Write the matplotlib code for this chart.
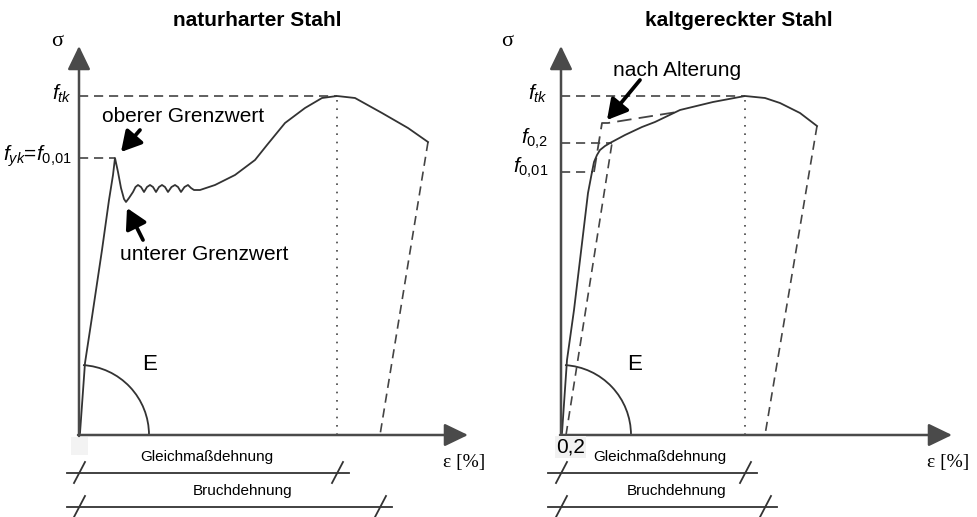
import numpy as np
import matplotlib.pyplot as plt
from matplotlib.patches import Arc, Rectangle

plt.rcParams['font.family'] = ['Liberation Sans', 'DejaVu Sans']
plt.rcParams['mathtext.fontset'] = 'custom'
plt.rcParams['mathtext.it'] = 'Liberation Sans:italic'
plt.rcParams['mathtext.rm'] = 'Liberation Sans'

# Schematic units (about one pixel each, measured from the origin of each diagram)

# naturharter Stahl
nat_eps = [0, 1, 6, 13, 23, 30, 34, 36, 39, 42, 45, 47, 50, 54, 56.5, 59, 62, 65, 68, 71, 74, 77, 80, 83,
           86, 89, 92.5, 96, 99, 102, 105.5, 109, 112, 115, 121, 136, 156, 176, 188, 206, 226, 243, 258,
           276, 303, 329, 349]
nat_sig = [0, 2, 72, 118, 185, 235, 260, 277, 263, 247, 236, 233, 237, 243, 248, 250, 248, 243, 248, 250,
           248, 243, 248, 250, 248, 243, 248, 250, 248, 243, 248, 250, 247, 245, 245, 250, 260, 275, 290,
           312, 327, 337, 339, 337, 322, 307, 293]
nat_ftk = 339
nat_fyk = 277
nat_eps_fyk = 36
nat_eps_ftk = 258
nat_eps_rest = 301

# kaltgereckter Stahl
kalt_eps = [0, 1, 6, 13, 19, 27, 31, 33, 36, 39, 44, 49, 64, 81, 94, 119, 152, 184, 204, 219, 239, 256]
kalt_sig = [0, 2, 75, 125, 175, 242, 263, 273, 280, 285, 289, 292, 300, 308, 313, 325, 333, 339, 337, 332, 322, 309]
kalt_ftk = 339
kalt_f02 = 292
kalt_f001 = 263
kalt_eps_f02 = 51
kalt_eps_f001 = 32
kalt_eps_ftk = 184
kalt_eps_rest = 204
offset_eps = [5, 51]
offset_sig = [0, 292]
aged_eps = [33, 41, 47, 116]
aged_sig = [263, 312, 312, 323]

LINE = '#333333'
AXIS = '#4a4a4a'
GUIDE = '#444444'

fig = plt.figure(figsize=(9.77, 5.17), dpi=100)
ax1 = fig.add_axes([0, 0, 488 / 977, 1])
ax2 = fig.add_axes([488 / 977, 0, 489 / 977, 1])
ax1.set_xlim(-79, 409)
ax1.set_ylim(-82, 435)
ax2.set_xlim(-73, 416)
ax2.set_ylim(-82, 435)


def hline(ax, y, x1):
    ax.plot([0, x1], [y, y], color=GUIDE, lw=1.2, dashes=(5.5, 3.5))


def dim_line(ax, y, x0, x1, ticks, label, xlab):
    ax.plot([x0, x1], [y, y], color=LINE, lw=1.3, clip_on=False)
    for t in ticks:
        ax.plot([t - 5, t + 6], [y - 10, y + 11], color=LINE, lw=1.3, clip_on=False)
    ax.text(xlab, y + 16, label, fontsize=11, ha='center', va='center')


def base(ax, title, x_end, sigma_x):
    ax.set_axis_off()
    arrow = dict(arrowstyle='-|>,head_length=1.45,head_width=0.7', mutation_scale=10,
                 lw=1.8, color=AXIS, shrinkA=0, shrinkB=0)
    ax.annotate('', xy=(0, 389), xytext=(0, -1), arrowprops=arrow)
    ax.annotate('', xy=(x_end, 0), xytext=(-1, 0), arrowprops=arrow)
    ax.text(178, 415, title, fontsize=15, fontweight='bold', ha='center', va='center')
    ax.text(x_end - 25, -28, 'ε [%]', family=['Liberation Serif', 'DejaVu Serif'],
            fontsize=14, ha='left', va='center')
    ax.text(sigma_x, 393, 'σ', family=['Liberation Serif', 'DejaVu Serif'],
            fontsize=16, ha='center', va='center')


pointer = dict(arrowstyle='-|>,head_length=0.75,head_width=0.42', mutation_scale=16,
               lw=2.7, color='black', shrinkA=0, shrinkB=0)

# --- naturharter Stahl ---
base(ax1, 'naturharter Stahl', 389, -22)
hline(ax1, nat_ftk, nat_eps_ftk)
hline(ax1, nat_fyk, nat_eps_fyk)
ax1.plot([nat_eps_ftk, nat_eps_ftk], [0, nat_ftk], color=GUIDE, lw=1.2, linestyle=(0, (1, 4)))
ax1.plot([nat_eps[-1], nat_eps_rest], [nat_sig[-1], 0], color=GUIDE, lw=1.2, dashes=(5.5, 3.5))
ax1.plot(nat_eps, nat_sig, color=LINE, lw=1.3, solid_joinstyle='round')
ax1.add_patch(Arc((0, 0), 140, 140, theta1=0, theta2=np.degrees(np.arctan2(70, 4)), color=LINE, lw=1.3))
ax1.add_patch(Rectangle((-8, -20), 17, 18, facecolor='#f3f3f3', edgecolor='none'))
ax1.text(71, 70, 'E', fontsize=16, ha='center', va='center')
ax1.text(-7, nat_ftk + 2, r'$f_{tk}$', fontsize=15, ha='right', va='center')
ax1.text(-7, nat_fyk + 2, r'$f_{yk}$=$f_{\mathit{0{,}01}}$', fontsize=15, ha='right', va='center')
ax1.text(104, 318, 'oberer Grenzwert', fontsize=15, ha='center', va='center')
ax1.annotate('', xy=(42, 283), xytext=(61, 305), arrowprops=pointer)
ax1.text(125, 181, 'unterer Grenzwert', fontsize=15, ha='center', va='center')
ax1.annotate('', xy=(48, 227), xytext=(64, 195), arrowprops=pointer)
dim_line(ax1, -38, -12, nat_eps_ftk + 12, [0, nat_eps_ftk], 'Gleichmaßdehnung', 128)
dim_line(ax1, -72, -12, nat_eps_rest + 12, [0, nat_eps_rest], 'Bruchdehnung', 164)

# --- kaltgereckter Stahl ---
base(ax2, 'kaltgereckter Stahl', 391, -54)
hline(ax2, kalt_ftk, kalt_eps_ftk)
hline(ax2, kalt_f02, kalt_eps_f02)
hline(ax2, kalt_f001, kalt_eps_f001)
ax2.plot([kalt_eps_ftk, kalt_eps_ftk], [0, kalt_ftk], color=GUIDE, lw=1.2, linestyle=(0, (1, 4)))
ax2.plot([kalt_eps[-1], kalt_eps_rest], [kalt_sig[-1], 0], color=GUIDE, lw=1.2, dashes=(5.5, 3.5))
ax2.plot(offset_eps, offset_sig, color=GUIDE, lw=1.2, dashes=(5.5, 3.5))
ax2.plot(aged_eps, aged_sig, color=GUIDE, lw=1.3, dashes=(8, 4))
ax2.plot(kalt_eps, kalt_sig, color=LINE, lw=1.3, solid_joinstyle='round')
ax2.add_patch(Arc((0, 0), 140, 140, theta1=0, theta2=np.degrees(np.arctan2(70, 4)), color=LINE, lw=1.3))
ax2.text(74, 70, 'E', fontsize=16, ha='center', va='center')
ax2.text(-5, -12, '0,2', fontsize=15, ha='left', va='center',
         bbox=dict(boxstyle='square,pad=0.05', facecolor='#f1f1f1', edgecolor='none'))
ax2.text(-13, kalt_ftk + 2, r'$f_{tk}$', fontsize=15, ha='right', va='center')
ax2.text(-13, kalt_f02 + 4, r'$f_{\mathit{0{,}2}}$', fontsize=15, ha='right', va='center')
ax2.text(-13, kalt_f001 + 4, r'$f_{\mathit{0{,}01}}$', fontsize=15, ha='right', va='center')
ax2.text(116, 365, 'nach Alterung', fontsize=15, ha='center', va='center')
ax2.annotate('', xy=(46, 315), xytext=(79, 355), arrowprops=pointer)
dim_line(ax2, -38, -13, kalt_eps_ftk + 12, [0, kalt_eps_ftk], 'Gleichmaßdehnung', 99)
dim_line(ax2, -72, -13, kalt_eps_rest + 12, [0, kalt_eps_rest], 'Bruchdehnung', 116)

fig.savefig('out.png', dpi=100)
